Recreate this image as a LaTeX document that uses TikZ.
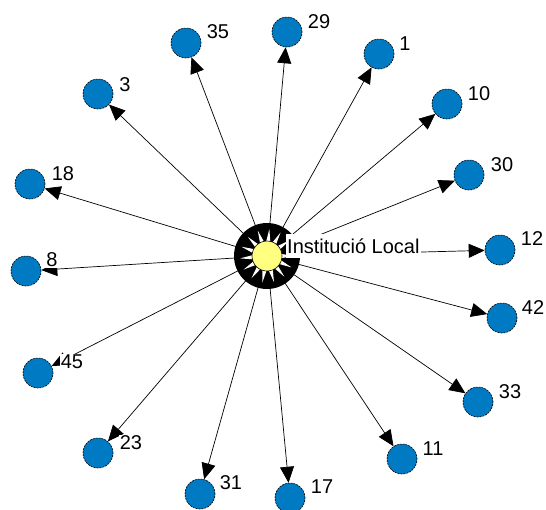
\documentclass[tikz,border=0pt]{standalone}
\usepackage{fontspec}
\setmainfont{Liberation Sans}
\usetikzlibrary{arrows.meta}
\definecolor{actorblue}{RGB}{0,122,194}
\definecolor{hubyellow}{RGB}{255,255,128}
\tikzset{
  actor/.style={circle, fill=actorblue, draw=black, line width=0.6pt,
    dash pattern=on 2pt off 1pt, minimum size=30pt, inner sep=0pt},
  hub/.style={circle, fill=hubyellow, draw=black, line width=0.6pt,
    minimum size=30pt, inner sep=0pt},
  tag/.style={fill=white, inner sep=1pt, font=\fontsize{20}{24}\selectfont},
  tie/.style={-{Triangle[length=16pt,width=14pt]}, line width=0.7pt},
}

\begin{document}
\begin{tikzpicture}[x=1pt,y=-1pt]
  \useasboundingbox (0,0) rectangle (546,509);
  \coordinate (C) at (267,256);
  % actors round the institution
  \node[actor] (N35) at (186,43) {};
  \node[actor] (N29) at (287,32) {};
  \node[actor] (N1) at (379,54) {};
  \node[actor] (N10) at (447,104) {};
  \node[actor] (N30) at (469,175) {};
  \node[actor] (N12) at (500,250) {};
  \node[actor] (N42) at (502,318) {};
  \node[actor] (N33) at (478,402) {};
  \node[actor] (N11) at (402,459) {};
  \node[actor] (N17) at (290,498) {};
  \node[actor] (N31) at (200,494) {};
  \node[actor] (N23) at (98,453) {};
  \node[actor] (N45) at (38,373) {};
  \node[actor] (N8) at (26,271) {};
  \node[actor] (N18) at (30,184) {};
  \node[actor] (N3) at (98,94) {};
  % ties
  \foreach \n in {35,29,1,10,30,12,42,33,11,17,31,23,45,8,18,3}
    \draw[tie] (C) -- (N\n);
  % the institution itself
  \fill (C) circle (33);
  \foreach \a in {0,25,...,340}
    \fill[white, shift={(C)}] (\a-9:14) -- (\a:27) -- (\a+9:14) -- cycle;
  \node[hub] (H) at (C) {};
  \node[tag, anchor=base west, text height=18pt, text depth=4pt] (HL) at (286,253) {Institució Local};
  % numbers
  \node[tag] (T35) at (218,32) {35};
  \node[tag] (T29) at (319,22) {29};
  \node[tag] (T1) at (405,44) {1};
  \node[tag] (T10) at (479,94) {10};
  \node[tag] (T30) at (502,165) {30};
  \node[tag] (T12) at (532,239) {12};
  \node[tag] (T42) at (533,308) {42};
  \node[tag] (T33) at (510,392) {33};
  \node[tag] (T11) at (433,449) {11};
  \node[tag] (T17) at (322,487) {17};
  \node[tag] (T31) at (231,483) {31};
  \node[tag] (T23) at (131,443) {23};
  \node[tag] (T45) at (72,362) {45};
  \node[tag] (T8) at (52,260) {8};
  \node[tag] (T18) at (63,174) {18};
  \node[tag] (T3) at (125,85) {3};
\end{tikzpicture}
\end{document}
